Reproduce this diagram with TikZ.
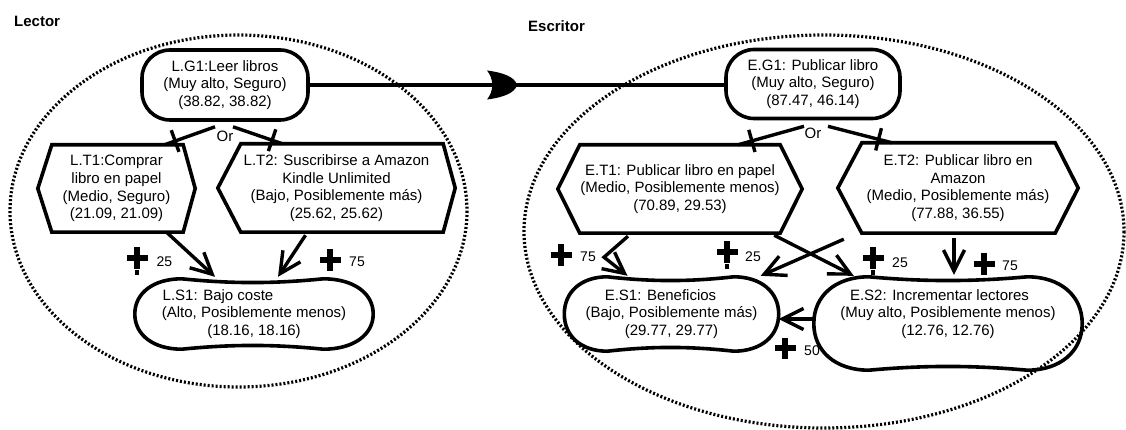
\documentclass[tikz,border=0pt]{standalone}
\usepackage{fontspec}
\setmainfont{Liberation Sans}
\usetikzlibrary{arrows.meta,calc,decorations.markings}
\tikzset{
  elem/.style={align=center,inner sep=0pt,font=\fontsize{15}{17.7}\selectfont},
  goal/.style={elem,draw,line width=3.6pt,rounded corners=28pt},
  task/.style={elem},
  softgoal/.style={elem},
  outline/.style={line width=3.6pt},
  boundary/.style={line width=3.2pt,dash pattern=on 2pt off 2pt},
  actorname/.style={font=\fontsize{15}{18}\selectfont\bfseries,inner sep=0pt,anchor=west},
  orlink/.style={line width=3.4pt,postaction={decorate},
    decoration={markings,mark=at position .79 with {\draw[line width=3.4pt] (0pt,-11.5pt) -- (0pt,11.5pt);}}},
  contrib/.style={line width=3.4pt,-{Straight Barb[length=21pt,width=21pt]}},
  depend/.style={line width=3.4pt,postaction={decorate},
    decoration={markings,mark=at position .5 with {\fill (-30pt,14.5pt) .. controls (-14pt,12.5pt) and (-2pt,8pt) .. (0pt,0pt)
      .. controls (-2pt,-8pt) and (-14pt,-12.5pt) .. (-30pt,-14.5pt) .. controls (-23pt,-6pt) and (-23pt,6pt) .. cycle;}}},
  weight/.style={font=\fontsize{14}{16}\selectfont,inner sep=0pt},
  contribplus/.pic={\fill (-10.5pt,-2.8pt) rectangle (10.5pt,2.8pt); \fill (-2.8pt,-10.5pt) rectangle (2.8pt,10.5pt);},
  contribsome/.pic={\fill (-10.5pt,-2.8pt) rectangle (10.5pt,2.8pt); \fill (-2.8pt,-10.5pt) rectangle (2.8pt,10.5pt);
    \fill (-2.3pt,-16.5pt) rectangle (2.3pt,-12pt);}
}

\begin{document}
\begin{tikzpicture}[x=1pt,y=-1pt]
  \useasboundingbox (0,0) rectangle (1126,430);
  \draw[boundary] (238.5,211) ellipse [x radius=228.5,y radius=176];
  \draw[boundary] (824,231.5) ellipse [x radius=300,y radius=196.5];
  \node[actorname] (lector) at (14,21) {Lector};
  \node[actorname] (escritor) at (528,26) {Escritor};

  \node[goal,minimum width=166,minimum height=70] (LG1) at (225,85)
       {L.G1:Leer libros\\(Muy alto, Seguro)\\(38.82, 38.82)};
  \node[task,minimum width=157,minimum height=87] (LT1) at (116.5,188.5)
       {L.T1:Comprar\\libro en papel\\(Medio, Seguro)\\(21.09, 21.09)};
  \node[task,minimum width=237,minimum height=88] (LT2) at (336.5,188)
       {L.T2: Suscribirse a Amazon\\Kindle Unlimited\hspace*{52pt}\\(Bajo, Posiblemente más)\\(25.62, 25.62)};
  \node[softgoal,minimum width=238,minimum height=70] (LS1) at (254,314)
       {L.S1: Bajo coste\hspace*{72pt}\\(Alto, Posiblemente menos)\hspace*{16pt}\\(18.16, 18.16)};

  \node[goal,minimum width=174,minimum height=69] (EG1) at (813,84)
       {E.G1: Publicar libro\\(Muy alto, Seguro)\\(87.47, 46.14)};
  \node[task,minimum width=244,minimum height=88] (ET1) at (680,189)
       {E.T1: Publicar libro en papel\\(Medio, Posiblemente menos)\\(70.89, 29.53)};
  \node[task,minimum width=240,minimum height=90] (ET2) at (958,188)
       {E.T2: Publicar libro en\\Amazon\hspace*{104pt}\\(Medio, Posiblemente más)\\(77.88, 36.55)};
  \node[softgoal,minimum width=214,minimum height=74] (ES1) at (671.5,314)
       {E.S1: Beneficios\hspace*{22pt}\\(Bajo, Posiblemente más)\\(29.77, 29.77)};
  \node[softgoal,minimum width=268,minimum height=74] (ES2) at (948,314)
       {E.S2: Incrementar lectores\hspace*{17pt}\\(Muy alto, Posiblemente menos)\\(12.76, 12.76)};

  \node[elem] (orL) at ([yshift=-15pt]LG1.south) {Or};
  \node[elem] (orE) at ([yshift=-13pt]EG1.south) {Or};

  \foreach \n/\lw/\rw in {LT1/14/12,LT2/23/12,ET1/22/22,ET2/24/23}
    \draw[outline] (\n.west) -- ([xshift=\lw pt]\n.north west) -- ([xshift=-\rw pt]\n.north east)
      -- (\n.east) -- ([xshift=-\rw pt]\n.south east) -- ([xshift=\lw pt]\n.south west) -- cycle;

  \foreach \n/\lw/\rw/\ex in {LS1/47/50/0,ES1/43/45/0,ES2/55/55/19}{
    \coordinate (cse) at ([yshift=-\ex pt]\n.south east);
    \coordinate (csw) at ([yshift=-\ex pt]\n.south west);
    \coordinate (tl) at ([xshift=\lw pt]\n.north west);
    \coordinate (tr) at ([xshift=-\rw pt]\n.north east);
    \coordinate (br) at ([xshift=-\rw pt]cse);
    \coordinate (bl) at ([xshift=\lw pt]csw);
    \coordinate (ee) at ($(\n.north east)!.5!(cse)$);
    \coordinate (ww) at ($(\n.north west)!.5!(csw)$);
    \draw[outline] (tl) .. controls ($(tl)!.35!(tr)+(0,5)$) and ($(tl)!.65!(tr)+(0,5)$) .. (tr)
      .. controls ($(tr)!.6!(\n.north east)$) and ($(ee)!.6!(\n.north east)$) .. (ee)
      .. controls ($(ee)!.6!(cse)$) and ($(br)!.6!(cse)$) .. (br)
      .. controls ($(br)!.35!(bl)+(0,-5)$) and ($(br)!.65!(bl)+(0,-5)$) .. (bl)
      .. controls ($(bl)!.6!(csw)$) and ($(ww)!.6!(csw)$) .. (ww)
      .. controls ($(ww)!.6!(\n.north west)$) and ($(tl)!.6!(\n.north west)$) .. (tl) -- cycle;
  }

  \draw[depend] (LG1.east) -- (LG1.east -| EG1.west);
  \draw[orlink] ([xshift=-10pt,yshift=-5pt]LG1.south) -- ([xshift=48pt]LT1.north);
  \draw[orlink] ([xshift=8pt,yshift=-5pt]LG1.south) -- ([xshift=-54pt]LT2.north);
  \draw[orlink] ([xshift=-9pt,yshift=-6pt]EG1.south) -- ([xshift=58pt]ET1.north);
  \draw[orlink] ([xshift=15pt,yshift=-6pt]EG1.south) -- ([xshift=-66pt]ET2.north);

  \draw[contrib] ([xshift=50pt]LT1.south) -- ([xshift=-39pt,yshift=2pt]LS1.north);
  \draw[contrib] ([xshift=-31pt,yshift=-3pt]LT2.south) -- ([xshift=24pt,yshift=2pt]LS1.north);
  \draw[contrib] ([xshift=-52pt,yshift=-3pt]ET1.south) -- ++(-24,21) -- ([xshift=-44pt,yshift=1pt]ES1.north);
  \draw[contrib] ([xshift=-28pt,yshift=-2pt]ET1.south east) -- ([xshift=40pt,yshift=1pt]ES2.north west);
  \draw[contrib] ([xshift=6pt,yshift=-6pt]ET2.south west) -- ([xshift=-18pt,yshift=1pt]ES1.north east);
  \draw[contrib] ([xshift=-4pt,yshift=-5pt]ET2.south) -- ([xshift=6pt,yshift=2pt]ES2.north);
  \draw[contrib] ([yshift=-5pt]ES2.west) -- ([yshift=-5pt]ES1.east);

  \pic at (137,258) {contribsome};
  \node[weight] (wL1) at (164.5,262) {25};
  \pic at (330,260) {contribplus};
  \node[weight] (wL2) at (357,262) {75};
  \pic at (561,255) {contribplus};
  \node[weight] (wE1) at (588,257) {75};
  \pic at (727,252) {contribsome};
  \node[weight] (wE2) at (753,257) {25};
  \pic at (873,258) {contribsome};
  \node[weight] (wE3) at (900,263) {25};
  \pic at (984,264) {contribplus};
  \node[weight] (wE4) at (1010,266) {75};
  \pic at (785,348) {contribplus};
  \node[weight] (wE5) at (812,351) {50};
\end{tikzpicture}
\end{document}
